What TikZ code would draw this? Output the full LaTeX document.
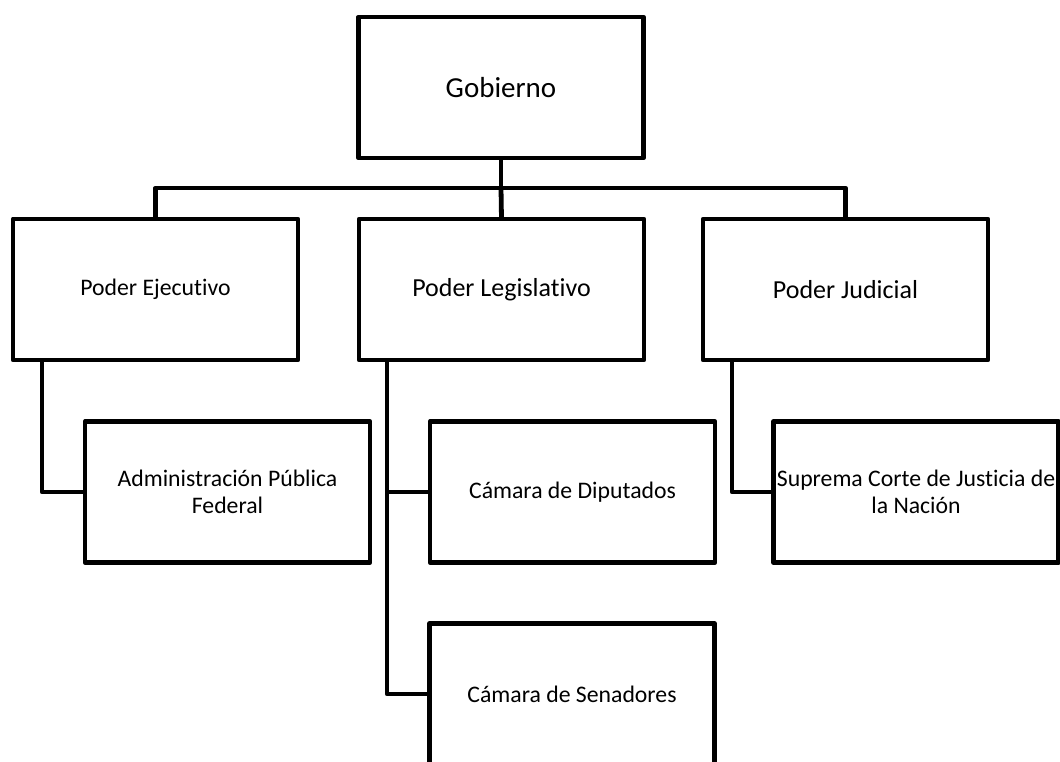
\documentclass[tikz,border=0pt]{standalone}
\usepackage{fontspec}
\setmainfont{Carlito}[Ligatures=NoCommon]
\usepackage{tikz}
\usetikzlibrary{positioning}

\begin{document}
\begin{tikzpicture}[x=0.75pt, y=-0.75pt, line width=3.6pt, line join=round,
  caja/.style={draw, line width=3.6pt, outer sep=0pt, inner sep=0pt,
    minimum width=213.75pt, minimum height=105.75pt, align=center,
    font=\fontsize{17.8}{20.25}\selectfont},
  grande/.style={font=\fontsize{19.5}{23}\selectfont},
  titulo/.style={font=\fontsize{21.75}{26}\selectfont}]
  \useasboundingbox (0,0) rectangle (1060,762);

  \node[caja, titulo] (gob) at (501,87.5) {Gobierno};

  \node[caja] (eje) at (155.5,289.5) {Poder Ejecutivo};
  \node[caja, grande] (leg) at (501.5,289.5) {Poder Legislativo};
  \node[caja, grande] (jud) at (845.5,289.5) {Poder Judicial};

  \node[caja] (adm) at (227.5,492) {Administración Pública\\Federal};
  \node[caja] (dip) at (572.5,492) {Cámara de Diputados};
  \node[caja] (sup) at (916,492) {Suprema Corte de Justicia de\\la Nación};
  \node[caja] (sen) at (572,694) {Cámara de Senadores};

  \coordinate (bus) at (501,188);
  \draw (gob.south) -- (bus);
  \draw (eje.north) |- (bus) -| (jud.north);
  \draw (bus) -- (leg.north);

  \draw ([xshift=21.75pt]eje.south west) |- (adm.west);
  \draw ([xshift=21pt]leg.south west) |- (dip.west);
  \draw ([xshift=21pt]leg.south west) |- (sen.west);
  \draw ([xshift=21.75pt]jud.south west) |- (sup.west);
\end{tikzpicture}
\end{document}
